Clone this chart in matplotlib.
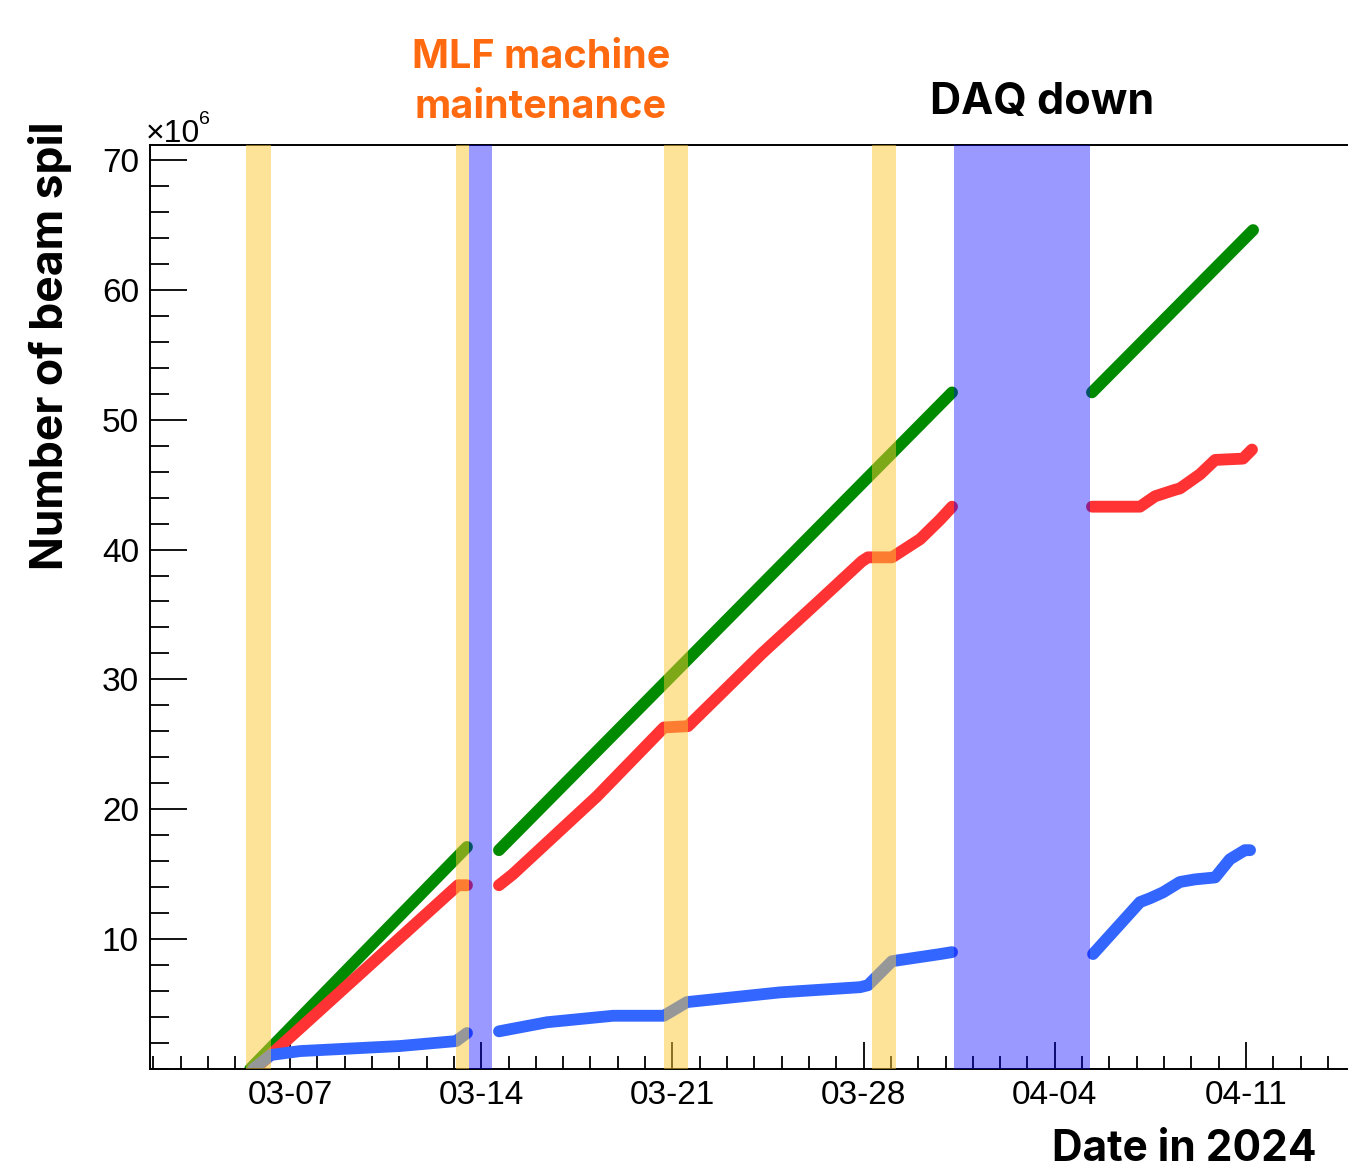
import numpy as np
import matplotlib
matplotlib.use('Agg')
import matplotlib.pyplot as plt
import matplotlib.dates as mdates
from matplotlib.ticker import MultipleLocator

nan = np.nan

# x values: days after 2024-03-01 00:00, y values: beam spills in units of 1e6
green_days = [4.54, 12.48, nan, 13.65, 30.24, nan, 35.36, 41.26]
green_vals = [0.0, 17.1, nan, 16.85, 52.1, nan, 52.1, 64.6]

red_days = [4.72, 12.15, 12.48, nan,
            13.65, 14.16, 17.24, 19.69, 20.57, 23.28, 25.40, 26.94,
            27.16, 28.04, 29.07, 29.80, 30.24, nan,
            35.36, 37.12, 37.67, 38.40, 38.58, 39.32, 39.87, 40.89, 41.22]
red_vals = [0.0, 14.15, 14.15, nan,
            14.15, 15.0, 21.0, 26.3, 26.4, 32.0, 36.1, 39.1,
            39.4, 39.4, 40.8, 42.3, 43.3, nan,
            43.3, 43.3, 44.1, 44.6, 44.7, 45.8, 46.9, 47.0, 47.7]

blue_days = [4.65, 5.30, 6.37, 10.03, 12.08, 12.48, nan,
             13.65, 15.41, 17.83, 19.69, 20.53, 23.94, 26.87, 27.16, 28.04,
             29.80, 30.24, nan,
             35.40, 37.12, 37.49, 37.96, 38.58, 39.13, 39.87, 40.41, 40.96, 41.15]
blue_vals = [0.0, 1.08, 1.38, 1.77, 2.15, 2.77, nan,
             2.9, 3.6, 4.1, 4.1, 5.15, 5.9, 6.3, 6.45, 8.3,
             8.85, 9.0, nan,
             8.85, 12.85, 13.15, 13.6, 14.4, 14.6, 14.75, 16.15, 16.85, 16.85]

# shaded periods (days after 03-01)
maintenance_bands = [(4.39, 5.30), (12.08, 12.55), (19.69, 20.57), (27.31, 28.19)]
daq_down_bands = [(12.55, 13.40), (30.31, 35.29)]

W, H = 1348, 1170
t0 = mdates.date2num(np.datetime64('2024-03-01'))

def to_x(days):
    return t0 + np.asarray(days, dtype=float)

fig = plt.figure(figsize=(W / 100, H / 100), dpi=100)
ax = fig.add_axes([150 / W, 101 / H, 1198 / W, 924 / H])

lw = 8.5
ax.plot(to_x(green_days), green_vals, color='#008a00', lw=lw, solid_capstyle='round', zorder=2)
ax.plot(to_x(red_days), red_vals, color='#ff3333', lw=lw, solid_capstyle='round', zorder=2)
ax.plot(to_x(blue_days), blue_vals, color='#3366ff', lw=lw, solid_capstyle='round', zorder=2)

for a, b in maintenance_bands:
    ax.axvspan(t0 + a, t0 + b, color='#fac832', alpha=0.5, lw=0, zorder=3)
for a, b in daq_down_bands:
    ax.axvspan(t0 + a, t0 + b, color='#0000ff', alpha=0.4, lw=0, zorder=3)

ax.set_xlim(t0 + 0.874, t0 + 44.735)
ax.set_ylim(0, 71.15)

tick_font = ['Liberation Sans', 'DejaVu Sans']
ax.xaxis.set_major_locator(mdates.WeekdayLocator(byweekday=mdates.TH))
ax.xaxis.set_minor_locator(mdates.DayLocator())
ax.xaxis.set_major_formatter(mdates.DateFormatter('%m-%d'))
ax.set_yticks([10, 20, 30, 40, 50, 60, 70])
ax.yaxis.set_minor_locator(MultipleLocator(2))
ax.tick_params(axis='both', which='both', direction='in', color='black', width=1.3)
ax.tick_params(axis='y', which='major', length=26.5, labelsize=24, pad=8)
ax.tick_params(axis='y', which='minor', length=14)
ax.tick_params(axis='x', which='major', length=19.5, labelsize=24, pad=8)
ax.tick_params(axis='x', which='minor', length=9.5)
for lab in ax.get_xticklabels() + ax.get_yticklabels():
    lab.set_family(tick_font)

for s in ['left', 'bottom', 'top']:
    ax.spines[s].set_linewidth(1.4)
ax.spines['right'].set_visible(False)

bold = ['Inter', 'DejaVu Sans']
def ftext(x, y, s, **kw):
    fig.text(x / W, 1 - y / H, s, **kw)

ftext(146, 142, '\u00d710', fontsize=23, family=tick_font, ha='left', va='baseline')
ftext(199, 124, '6', fontsize=14, family=tick_font, ha='left', va='baseline')

ftext(541, 58, 'MLF machine', fontsize=28.5, weight='bold', family=bold,
      color='#ff6a10', ha='center', va='center')
ftext(541, 108, 'maintenance', fontsize=28.5, weight='bold', family=bold,
      color='#ff6a10', ha='center', va='center')
ftext(1042, 103, 'DAQ down', fontsize=31, weight='bold', family=bold,
      ha='center', va='center')
ftext(1316, 1161, 'Date in 2024', fontsize=30.5, weight='bold', family=bold,
      ha='right', va='baseline')
ftext(50, 346, 'Number of beam spil', fontsize=32, weight='bold', family=bold,
      rotation=90, ha='center', va='center')

fig.savefig('out.png', dpi=100)
